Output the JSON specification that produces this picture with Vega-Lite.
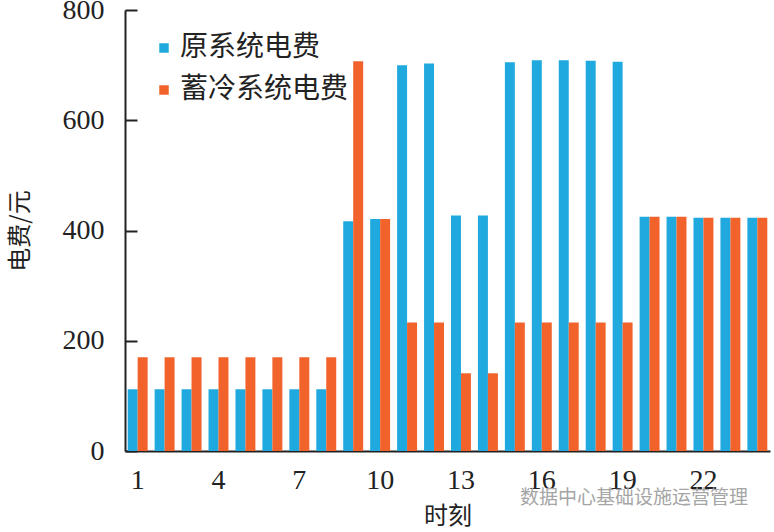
{
  "$schema": "https://vega.github.io/schema/vega-lite/v6.json",
  "autosize": "none",
  "width": 645,
  "height": 441,
  "padding": {"left": 125, "top": 10, "right": 4, "bottom": 81},
  "background": "white",
  "title": {
    "text": "数据中心基础设施运营管理",
    "orient": "bottom",
    "anchor": "end",
    "font": "Noto Sans CJK SC",
    "fontSize": 19,
    "fontWeight": "normal",
    "color": "#a5a5a5",
    "offset": -39,
    "dx": -22
  },
  "data": {
    "values": [
      {"hour": 1, "series": "原系统电费", "cost": 112},
      {"hour": 1, "series": "蓄冷系统电费", "cost": 170},
      {"hour": 2, "series": "原系统电费", "cost": 112},
      {"hour": 2, "series": "蓄冷系统电费", "cost": 170},
      {"hour": 3, "series": "原系统电费", "cost": 112},
      {"hour": 3, "series": "蓄冷系统电费", "cost": 170},
      {"hour": 4, "series": "原系统电费", "cost": 112},
      {"hour": 4, "series": "蓄冷系统电费", "cost": 170},
      {"hour": 5, "series": "原系统电费", "cost": 112},
      {"hour": 5, "series": "蓄冷系统电费", "cost": 170},
      {"hour": 6, "series": "原系统电费", "cost": 112},
      {"hour": 6, "series": "蓄冷系统电费", "cost": 170},
      {"hour": 7, "series": "原系统电费", "cost": 112},
      {"hour": 7, "series": "蓄冷系统电费", "cost": 170},
      {"hour": 8, "series": "原系统电费", "cost": 112},
      {"hour": 8, "series": "蓄冷系统电费", "cost": 170},
      {"hour": 9, "series": "原系统电费", "cost": 417},
      {"hour": 9, "series": "蓄冷系统电费", "cost": 707},
      {"hour": 10, "series": "原系统电费", "cost": 421},
      {"hour": 10, "series": "蓄冷系统电费", "cost": 421},
      {"hour": 11, "series": "原系统电费", "cost": 700},
      {"hour": 11, "series": "蓄冷系统电费", "cost": 233},
      {"hour": 12, "series": "原系统电费", "cost": 703},
      {"hour": 12, "series": "蓄冷系统电费", "cost": 233},
      {"hour": 13, "series": "原系统电费", "cost": 427},
      {"hour": 13, "series": "蓄冷系统电费", "cost": 141},
      {"hour": 14, "series": "原系统电费", "cost": 427},
      {"hour": 14, "series": "蓄冷系统电费", "cost": 141},
      {"hour": 15, "series": "原系统电费", "cost": 705},
      {"hour": 15, "series": "蓄冷系统电费", "cost": 233},
      {"hour": 16, "series": "原系统电费", "cost": 709},
      {"hour": 16, "series": "蓄冷系统电费", "cost": 233},
      {"hour": 17, "series": "原系统电费", "cost": 709},
      {"hour": 17, "series": "蓄冷系统电费", "cost": 233},
      {"hour": 18, "series": "原系统电费", "cost": 708},
      {"hour": 18, "series": "蓄冷系统电费", "cost": 233},
      {"hour": 19, "series": "原系统电费", "cost": 706},
      {"hour": 19, "series": "蓄冷系统电费", "cost": 233},
      {"hour": 20, "series": "原系统电费", "cost": 425},
      {"hour": 20, "series": "蓄冷系统电费", "cost": 425},
      {"hour": 21, "series": "原系统电费", "cost": 425},
      {"hour": 21, "series": "蓄冷系统电费", "cost": 425},
      {"hour": 22, "series": "原系统电费", "cost": 423},
      {"hour": 22, "series": "蓄冷系统电费", "cost": 423},
      {"hour": 23, "series": "原系统电费", "cost": 423},
      {"hour": 23, "series": "蓄冷系统电费", "cost": 423},
      {"hour": 24, "series": "原系统电费", "cost": 423},
      {"hour": 24, "series": "蓄冷系统电费", "cost": 423}
    ]
  },
  "mark": {"type": "bar"},
  "encoding": {
    "x": {
      "field": "hour",
      "type": "ordinal",
      "title": "时刻",
      "scale": {"paddingInner": 0.26, "paddingOuter": 0.1},
      "axis": {
        "labelAngle": 0,
        "ticks": false,
        "domainColor": "#222",
        "domainWidth": 2,
        "labelFont": "Times New Roman",
        "labelFontSize": 28,
        "labelColor": "#222",
        "labelPadding": 15,
        "labelExpr": "(datum.value - 1) % 3 == 0 ? datum.label : ''",
        "titleFont": "Noto Sans CJK SC",
        "titleFontSize": 24,
        "titleFontWeight": "normal",
        "titleColor": "#222",
        "titlePadding": 10
      }
    },
    "xOffset": {"field": "series", "type": "nominal", "sort": ["原系统电费", "蓄冷系统电费"]},
    "y": {
      "field": "cost",
      "type": "quantitative",
      "title": "电费/元",
      "scale": {"domain": [0, 800]},
      "axis": {
        "values": [0, 200, 400, 600, 800],
        "grid": false,
        "domainColor": "#222",
        "domainWidth": 2,
        "tickColor": "#222",
        "tickWidth": 2,
        "tickSize": -12,
        "labelFont": "Times New Roman",
        "labelFontSize": 28,
        "labelColor": "#222",
        "labelPadding": 33,
        "titleFont": "Noto Sans CJK SC",
        "titleFontSize": 24,
        "titleFontWeight": "normal",
        "titleColor": "#222",
        "titlePadding": 30
      }
    },
    "color": {
      "field": "series",
      "type": "nominal",
      "title": null,
      "scale": {"domain": ["原系统电费", "蓄冷系统电费"], "range": ["#1fa9de", "#f2622b"]},
      "legend": {
        "orient": "none",
        "legendX": 25,
        "legendY": 24,
        "symbolType": "square",
        "symbolSize": 90,
        "labelFont": "Noto Sans CJK SC",
        "labelFontSize": 28,
        "labelColor": "#222",
        "labelOffset": 2,
        "labelLimit": 300,
        "rowPadding": 14
      }
    }
  },
  "config": {"view": {"stroke": null}}
}
